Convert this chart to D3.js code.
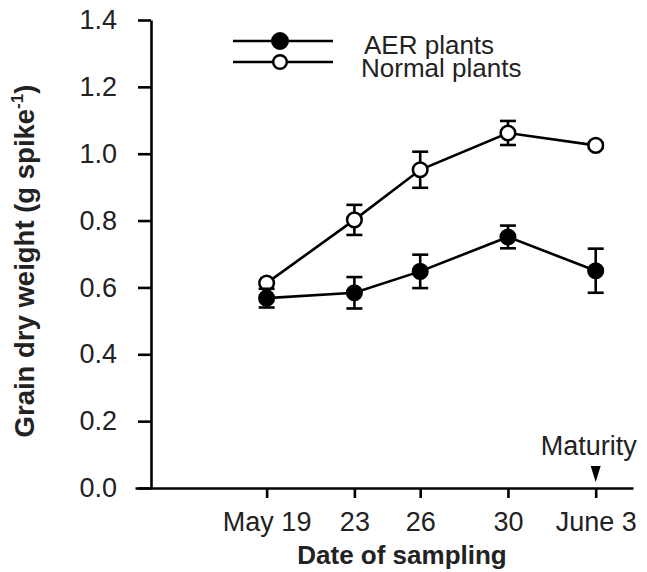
<!DOCTYPE html>
<html>
<head>
<meta charset="utf-8">
<script src="https://cdn.jsdelivr.net/npm/d3@7"></script>
<style>
  html, body { margin: 0; padding: 0; background: #fff; }
  svg { display: block; font-family: "Liberation Sans", Arial, sans-serif; }
  .axis path, .axis line { stroke: #000; stroke-width: 2.6; }
  .axis text { font-size: 27px; fill: #222; }
</style>
</head>
<body>
<svg id="chart" width="647" height="572"></svg>
<script>
// sampling days (May day number, June 3 = 34)
const days = [19, 23, 26, 30, 34];
const dateLabels = ["May 19", "23", "26", "30", "June 3"];
const yTicks = [0, 0.2, 0.4, 0.6, 0.8, 1.0, 1.2, 1.4];

const aerMean = [0.568, 0.584, 0.648, 0.751, 0.650];
const aerErr = [0.028, 0.047, 0.050, 0.034, 0.066];
const normalMean = [0.613, 0.802, 0.952, 1.062, 1.025];
const normalErr = [0, 0.045, 0.054, 0.036, 0.008];

const svg = d3.select("#chart");

// --- scales ---
const x = d3.scaleLinear().domain([13, 35.7]).range([135, 633]);
const y = d3.scaleLinear().domain([0, 1.4]).range([488, 20]);
const yAxisX = 151;

// --- axes ---
const xAxis = d3.axisBottom(x)
  .tickValues(days)
  .tickFormat((d, i) => dateLabels[i])
  .tickSize(10)
  .tickSizeOuter(0)
  .tickPadding(14);

svg.append("g")
  .attr("class", "axis")
  .attr("transform", `translate(0,${y(0)})`)
  .call(xAxis)
  .call(g => g.selectAll(".tick text").attr("dy", "0.72em"));

const yAxis = d3.axisLeft(y)
  .tickValues(yTicks)
  .tickFormat(d3.format(".1f"))
  .tickSize(13)
  .tickSizeOuter(0)
  .tickPadding(21);

svg.append("g")
  .attr("class", "axis")
  .attr("transform", `translate(${yAxisX},0)`)
  .call(yAxis);

// axis titles
svg.append("text")
  .attr("x", 402)
  .attr("y", 564)
  .attr("text-anchor", "middle")
  .attr("font-size", 26)
  .attr("font-weight", "bold")
  .attr("fill", "#222")
  .text("Date of sampling");

const yt = svg.append("text")
  .attr("transform", "translate(34,261) rotate(-90)")
  .attr("text-anchor", "middle")
  .attr("font-size", 27.5)
  .attr("font-weight", "bold")
  .attr("fill", "#222");
yt.append("tspan").text("Grain dry weight (g spike");
yt.append("tspan").attr("font-size", 17).attr("dy", -11).text("-1");
yt.append("tspan").attr("dy", 11).text(")");

// --- series ---
const series = [
  { name: "Normal plants", mean: normalMean, err: normalErr, fill: "#fff" },
  { name: "AER plants", mean: aerMean, err: aerErr, fill: "#000" }
];

const line = d3.line()
  .x((d, i) => x(days[i]))
  .y(d => y(d));

series.forEach(s => {
  const g = svg.append("g");

  g.append("path")
    .datum(s.mean)
    .attr("d", line)
    .attr("fill", "none")
    .attr("stroke", "#000")
    .attr("stroke-width", 2.6);

  // error bars
  s.mean.forEach((m, i) => {
    if (!s.err[i]) return;
    const cx = x(days[i]);
    const top = y(m + s.err[i]);
    const bot = y(m - s.err[i]);
    g.append("line")
      .attr("x1", cx).attr("x2", cx)
      .attr("y1", top).attr("y2", bot)
      .attr("stroke", "#000").attr("stroke-width", 2.6);
    [top, bot].forEach(yy => {
      g.append("line")
        .attr("x1", cx - 8).attr("x2", cx + 8)
        .attr("y1", yy).attr("y2", yy)
        .attr("stroke", "#000").attr("stroke-width", 2.6);
    });
  });

  g.selectAll("circle")
    .data(s.mean)
    .join("circle")
    .attr("cx", (d, i) => x(days[i]))
    .attr("cy", d => y(d))
    .attr("r", 7.3)
    .attr("fill", s.fill)
    .attr("stroke", "#000")
    .attr("stroke-width", 2.5);
});

// --- maturity marker ---
const mx = x(days[days.length - 1]);
svg.append("path")
  .attr("d", d3.line()([[mx - 5, 466], [mx + 5, 466], [mx, 482]]) + "Z")
  .attr("fill", "#000");
svg.append("text")
  .attr("x", mx - 7)
  .attr("y", 455)
  .attr("text-anchor", "middle")
  .attr("font-size", 27)
  .attr("fill", "#222")
  .text("Maturity");

// --- legend ---
const legend = [
  { name: "AER plants", fill: "#000", r: 7.8, ly: 41, tx: 364, dy: 13 },
  { name: "Normal plants", fill: "#fff", r: 6.8, ly: 62, tx: 361, dy: 15 }
];
legend.forEach(l => {
  svg.append("line")
    .attr("x1", 233).attr("x2", 333)
    .attr("y1", l.ly).attr("y2", l.ly)
    .attr("stroke", "#000").attr("stroke-width", 2.4);
  svg.append("circle")
    .attr("cx", 280).attr("cy", l.ly).attr("r", l.r)
    .attr("fill", l.fill).attr("stroke", "#000").attr("stroke-width", 2.4);
  svg.append("text")
    .attr("x", l.tx).attr("y", l.ly + l.dy)
    .attr("font-size", 26)
    .attr("fill", "#222")
    .text(l.name);
});
</script>
</body>
</html>
